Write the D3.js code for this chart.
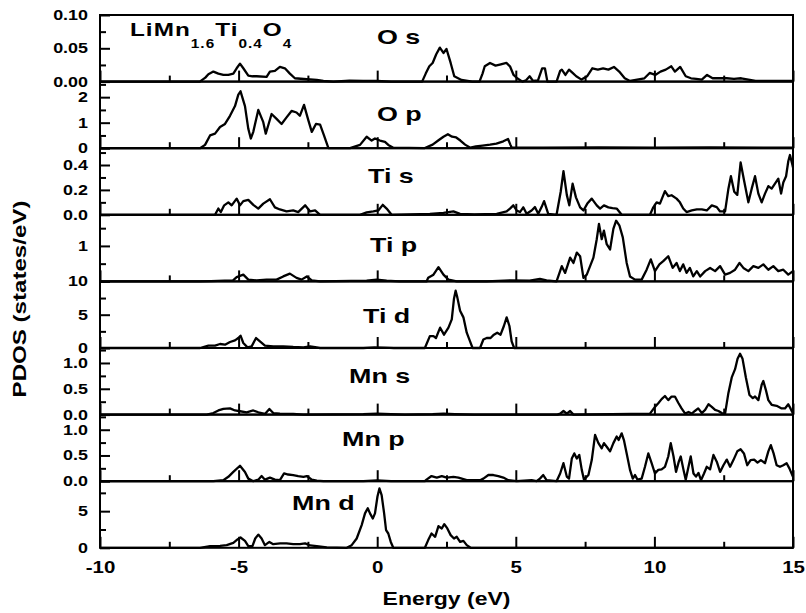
<!DOCTYPE html>
<html>
<head>
<meta charset="utf-8">
<script src="https://cdn.jsdelivr.net/npm/d3@7"></script>
<style>
  body { margin: 0; background: #fff; }
  text { font-family: "Liberation Sans", Arial, sans-serif; font-weight: bold; fill: #000; }
</style>
</head>
<body>
<svg id="chart" width="806" height="613"></svg>
<script>
/*
Energy axis ticks
*/
const energyTicks = [-10, -5, 0, 5, 10, 15];
const energyMinorTicks = [-7.5, -2.5, 2.5, 7.5, 12.5];

/*
PDOS curves, [energy (eV), states/eV]
*/
const oS = [[-10,0],[-6.4,0],[-6.2,0.006],[-6.09,0.011],[-5.91,0.015],[-5.73,0.012],[-5.55,0.01],[-5.37,0.01],[-5.19,0.012],[-5.07,0.02],[-4.95,0.027],[-4.83,0.02],[-4.65,0.009],[-4.5,0.008],[-4.35,0.008],[-3.99,0.007],[-3.87,0.015],[-3.69,0.016],[-3.51,0.022],[-3.33,0.02],[-3.15,0.012],[-2.97,0.005],[-2.54,0.0035],[-2.18,0.0025],[-1.94,0.001],[-1.58,0],[-1.0,0.0015],[-0.5,0.001],[0,0.001],[0.5,0],
  [1.62,0],[1.75,0.012],[1.88,0.023],[2.0,0.028],[2.13,0.041],[2.26,0.051],[2.39,0.043],[2.5,0.049],[2.65,0.028],[2.78,0.008],[3.04,0.0025],[3.43,0],[3.69,0],[3.8,0.012],[3.88,0.023],[4.07,0.028],[4.27,0.024],[4.46,0.026],[4.66,0.028],[4.79,0.023],[4.92,0.01],[5.05,0.005],[5.24,0],[5.37,0.002],[5.5,0.008],[5.62,0.001],[5.8,0.002],[5.95,0.02],[6.05,0.02],[6.14,0],[6.47,0],[6.6,0.016],[6.66,0.018],[6.79,0.01],[6.92,0.018],[7.05,0.013],[7.18,0.008],[7.37,0.003],[7.57,0.008],[7.76,0.02],[7.96,0.018],[8.15,0.02],[8.34,0.018],[8.54,0.022],[8.73,0.015],[8.93,0.005],[9.12,0.001],[9.38,0.003],[9.64,0.005],[9.83,0.013],[10.03,0.01],[10.22,0.015],[10.41,0.018],[10.61,0.023],[10.74,0.015],[10.93,0.022],[11.13,0.008],[11.32,0.005],[11.51,0.004],[11.71,0.003],[11.9,0.01],[12.1,0.005],[12.35,0.005],[12.61,0.005],[12.87,0.004],[13.13,0.005],[13.39,0.003],[13.65,0.001],[15,0.001]];

const oP = [[-10,0],[-6.39,0],[-6.21,0.13],[-6.03,0.5],[-5.85,0.57],[-5.67,0.83],[-5.49,0.95],[-5.31,1.27],[-5.13,1.65],[-5.01,2.1],[-4.93,2.23],[-4.77,1.65],[-4.65,0.76],[-4.56,0.38],[-4.47,0.64],[-4.29,1.5],[-4.11,1.02],[-4.02,0.57],[-3.93,0.9],[-3.81,1.34],[-3.63,1.15],[-3.45,0.95],[-3.27,1.21],[-3.09,1.46],[-2.91,1.4],[-2.79,1.27],[-2.64,1.7],[-2.48,1.08],[-2.36,0.64],[-2.21,0.95],[-2.06,0.92],[-1.92,0.5],[-1.76,0],[-0.98,0],[-0.62,0.13],[-0.38,0.45],[-0.2,0.3],[-0.08,0.38],[0.1,0.3],[0.28,0.25],[0.4,0.13],[0.58,0.02],
  [1.7,0],[2.0,0.14],[2.2,0.3],[2.39,0.45],[2.55,0.55],[2.7,0.45],[2.85,0.42],[3.0,0.3],[3.17,0.14],[3.36,0.02],[3.56,0.07],[3.8,0.1],[4.07,0.14],[4.3,0.18],[4.55,0.27],[4.72,0.36],[4.8,0.15],[4.85,0.03],[6,0.02],[8,0.03],[10,0.02],[12,0.03],[15,0.02]];

const tiS = [[-10,0],[-5.85,0],[-5.73,0.05],[-5.64,0.022],[-5.52,0.076],[-5.37,0.1],[-5.25,0.076],[-5.07,0.13],[-4.95,0.076],[-4.83,0.11],[-4.65,0.12],[-4.47,0.08],[-4.29,0.05],[-4.11,0.09],[-3.87,0.125],[-3.69,0.06],[-3.51,0.043],[-3.27,0.027],[-3.03,0.035],[-2.85,0.022],[-2.6,0.076],[-2.42,0.027],[-2.24,0.035],[-2.06,0],[-0.62,0],[-0.38,0.02],[-0.14,0.027],[0.04,0.035],[0.2,0.08],[0.34,0.05],[0.52,0],
  [1.9,0.008],[2.39,0.016],[2.75,0.027],[2.99,0.008],[3.5,0.003],[4.31,0.008],[4.67,0.027],[4.79,0.05],[4.91,0.076],[5.03,0.035],[5.15,0.022],[5.27,0.06],[5.39,0.008],[5.57,0.035],[5.69,0.062],[5.81,0.008],[5.93,0.062],[6.02,0.11],[6.17,0.008],[6.47,0],[6.62,0.185],[6.72,0.35],[6.84,0.16],[6.93,0.076],[7.05,0.25],[7.17,0.14],[7.32,0.06],[7.44,0.035],[7.58,0.09],[7.74,0.13],[7.92,0.076],[8.04,0.05],[8.18,0.076],[8.34,0.06],[8.49,0.054],[8.64,0.05],[8.82,0],[9.84,0],[9.96,0.06],[10.08,0.1],[10.2,0.09],[10.38,0.19],[10.5,0.15],[10.62,0.157],[10.8,0.13],[10.92,0.1],[11.04,0.05],[11.16,0.022],[11.35,0.035],[11.53,0.043],[11.71,0.043],[11.89,0.035],[12.07,0.076],[12.25,0.062],[12.37,0.027],[12.55,0.027],[12.67,0.21],[12.76,0.31],[12.88,0.185],[12.99,0.16],[13.11,0.42],[13.24,0.27],[13.39,0.1],[13.51,0.21],[13.63,0.31],[13.75,0.17],[13.87,0.1],[13.99,0.17],[14.11,0.23],[14.23,0.21],[14.35,0.25],[14.47,0.29],[14.57,0.17],[14.65,0.26],[14.75,0.31],[14.83,0.43],[14.89,0.48],[14.98,0.4],[15,0.38]];

const tiP = [[-10,0],[-6.4,0],[-6.0,0.01],[-5.5,0.02],[-5.2,0.03],[-5.07,0.12],[-4.83,0.19],[-4.65,0.05],[-4.35,0.03],[-3.99,0.05],[-3.63,0.05],[-3.39,0.14],[-3.15,0.22],[-2.91,0.1],[-2.73,0.05],[-2.54,0.14],[-2.36,0.03],[-2.06,0],[-0.38,0.02],[-0.02,0.05],[0.34,0.02],[0.8,0],
  [1.78,0],[1.84,0.1],[2.03,0.19],[2.21,0.4],[2.39,0.19],[2.57,0.05],[2.87,0],[3.95,0],[4.8,0.03],[5.5,0.02],[5.87,0.07],[6.11,0.03],[6.47,0],[6.66,0.43],[6.78,0.24],[6.96,0.67],[7.08,0.52],[7.2,0.81],[7.32,0.71],[7.44,0.1],[7.56,0.19],[7.68,0.43],[7.8,0.67],[7.92,1.19],[8.0,1.62],[8.1,1.19],[8.18,1.43],[8.28,1.05],[8.4,0.9],[8.52,1.48],[8.62,1.71],[8.74,1.57],[8.86,1.24],[9.0,0.52],[9.12,0.14],[9.3,0.05],[9.54,0.05],[9.72,0.33],[9.87,0.62],[10.02,0.29],[10.18,0.48],[10.32,0.57],[10.5,0.71],[10.66,0.38],[10.8,0.52],[10.92,0.29],[11.04,0.48],[11.16,0.24],[11.28,0.38],[11.4,0.14],[11.53,0.29],[11.65,0.14],[11.83,0.29],[12.01,0.38],[12.19,0.29],[12.37,0.43],[12.55,0.19],[12.73,0.24],[12.91,0.33],[13.07,0.52],[13.21,0.38],[13.39,0.29],[13.57,0.43],[13.75,0.38],[13.93,0.48],[14.11,0.33],[14.29,0.43],[14.47,0.29],[14.65,0.33],[14.83,0.19],[15,0.29]];

const tiD = [[-10,0],[-6.39,0],[-6.09,0.35],[-5.85,0.35],[-5.67,0.6],[-5.49,0.5],[-5.31,0.9],[-5.13,1.15],[-5.01,1.5],[-4.93,1.85],[-4.83,0.75],[-4.68,0.1],[-4.53,0.25],[-4.37,1.5],[-4.23,1.0],[-4.05,0.35],[-3.75,0.25],[-3.39,0.25],[-3.03,0.15],[-2.66,0.1],[-2.42,0.25],[-2.06,0],[-0.5,0],[-0.1,0.1],[0.3,0.05],[0.6,0],
  [1.72,0],[1.9,1.78],[2.03,1.78],[2.12,1.5],[2.27,3.05],[2.41,2.0],[2.57,3.05],[2.69,4.3],[2.77,7.4],[2.83,8.6],[2.89,7.6],[2.99,5.6],[3.11,4.6],[3.23,2.3],[3.35,1.0],[3.44,0],[3.71,0],[3.83,1.27],[3.95,1.5],[4.09,1.5],[4.21,2.0],[4.33,2.3],[4.45,2.0],[4.57,3.3],[4.67,4.6],[4.77,3.3],[4.85,1.0],[4.94,0],[15,0]];

const mnS = [[-10,0],[-6.15,0],[-5.91,0.03],[-5.73,0.08],[-5.55,0.11],[-5.31,0.12],[-5.13,0.08],[-4.95,0.065],[-4.71,0.045],[-4.47,0.08],[-4.29,0.045],[-4.05,0.013],[-3.89,0.11],[-3.75,0.03],[-3.51,0.02],[-3.03,0.013],[-2.66,0],[-0.5,0.01],[0,0.02],[0.5,0.01],[1,0],
  [2.0,0.01],[2.4,0.02],[2.8,0.01],[3.5,0],[6.5,0],[6.6,0.02],[6.72,0.07],[6.84,0.02],[6.96,0.07],[7.08,0],[9.84,0.02],[10.02,0.15],[10.14,0.22],[10.26,0.3],[10.38,0.36],[10.5,0.28],[10.62,0.35],[10.74,0.35],[10.86,0.23],[10.98,0.12],[11.11,0.02],[11.23,0.05],[11.35,0.02],[11.46,0.07],[11.58,0.12],[11.71,0.03],[11.83,0.09],[11.95,0.2],[12.07,0.15],[12.19,0.09],[12.31,0.07],[12.43,0.03],[12.55,0.02],[12.67,0.42],[12.79,0.72],[12.91,0.88],[13.0,1.08],[13.09,1.18],[13.18,1.08],[13.3,0.72],[13.43,0.38],[13.55,0.32],[13.63,0.35],[13.75,0.28],[13.87,0.58],[13.93,0.65],[14.02,0.48],[14.11,0.28],[14.23,0.19],[14.41,0.17],[14.59,0.12],[14.71,0.12],[14.83,0.2],[14.91,0.12],[15,0.02]];

const mnP = [[-10,0],[-5.91,0],[-5.55,0.02],[-5.37,0.085],[-5.19,0.18],[-4.95,0.3],[-4.77,0.18],[-4.65,0.05],[-4.47,0],[-4.29,0.03],[-4.17,0.1],[-4.05,0.03],[-3.87,0.07],[-3.69,0.03],[-3.51,0.02],[-3.36,0.15],[-3.21,0.13],[-3.03,0.12],[-2.85,0.1],[-2.66,0.085],[-2.54,0.1],[-2.36,0.03],[-2.18,0.01],[-1.94,0],[-0.5,0],[0,0.015],[0.5,0],
  [1.72,0],[1.78,0.03],[1.96,0.1],[2.15,0.07],[2.33,0.1],[2.51,0.07],[2.75,0.085],[2.93,0.07],[3.23,0.02],[3.71,0.02],[3.83,0.05],[4.01,0.12],[4.19,0.12],[4.37,0.1],[4.55,0.07],[4.73,0.02],[5.03,0],[5.57,0.02],[5.75,0],[5.87,0.05],[5.99,0.12],[6.11,0.02],[6.47,0],[6.6,0.15],[6.72,0.35],[6.84,0.09],[6.92,0.05],[7.02,0.44],[7.11,0.54],[7.2,0.44],[7.29,0.51],[7.38,0.22],[7.46,0.03],[7.62,0.12],[7.74,0.41],[7.86,0.9],[7.98,0.74],[8.1,0.64],[8.18,0.74],[8.28,0.67],[8.4,0.58],[8.52,0.74],[8.64,0.87],[8.71,0.8],[8.82,0.93],[8.9,0.8],[9.0,0.54],[9.12,0.22],[9.22,0.05],[9.3,0.12],[9.39,0.03],[9.54,0.05],[9.66,0.28],[9.78,0.54],[9.9,0.35],[10.02,0.15],[10.14,0.22],[10.26,0.23],[10.38,0.28],[10.5,0.48],[10.59,0.74],[10.69,0.48],[10.78,0.18],[10.88,0.38],[10.95,0.48],[11.05,0.22],[11.13,0.03],[11.23,0.28],[11.31,0.48],[11.41,0.15],[11.5,0.09],[11.59,0.16],[11.68,0.02],[11.79,0.15],[11.89,0.28],[12.01,0.23],[12.13,0.51],[12.25,0.38],[12.37,0.18],[12.49,0.31],[12.61,0.42],[12.73,0.28],[12.85,0.41],[12.99,0.58],[13.11,0.62],[13.23,0.54],[13.35,0.31],[13.47,0.41],[13.6,0.42],[13.72,0.36],[13.84,0.41],[13.99,0.35],[14.11,0.58],[14.2,0.7],[14.3,0.54],[14.41,0.31],[14.53,0.28],[14.65,0.31],[14.77,0.35],[14.87,0.25],[15,0.085]];

const mnD = [[-10,0],[-6.39,0],[-6.03,0.23],[-5.67,0.27],[-5.43,0.36],[-5.19,0.68],[-5.04,1.14],[-4.93,1.4],[-4.77,0.95],[-4.65,0.23],[-4.5,0.23],[-4.4,1.27],[-4.29,1.8],[-4.17,1.27],[-4.05,0.36],[-3.89,0.8],[-3.75,0.5],[-3.5,0.6],[-3.27,0.6],[-3.03,0.5],[-2.79,0.5],[-2.6,0.6],[-2.42,0.32],[-2.18,0.23],[-1.82,0.05],[-1.1,0],[-0.92,0.36],[-0.74,1.27],[-0.56,3.1],[-0.44,4.7],[-0.34,5.4],[-0.26,4.7],[-0.16,4.0],[-0.08,4.7],[0.01,7.0],[0.08,8.1],[0.16,7.2],[0.25,4.7],[0.32,2.4],[0.4,1.95],[0.49,0.8],[0.58,0],
  [1.72,0],[1.84,1.05],[1.96,1.95],[2.09,1.5],[2.21,2.95],[2.33,2.64],[2.42,3.23],[2.53,2.64],[2.65,1.73],[2.77,1.27],[2.87,1.5],[2.99,0.8],[3.11,0.95],[3.23,0.36],[3.37,0],[15,0]];

/*
Panel names, y ranges and y ticks (top to bottom)
*/
const panelNames = ["O s", "O p", "Ti s", "Ti p", "Ti d", "Mn s", "Mn p", "Mn d"];
const panelMax = [0.10, 2.61, 0.535, 1.877, 10, 1.29, 1.294, 9.09];
const panelTicks = [[0, 0.05, 0.10], [0, 1, 2], [0, 0.2, 0.4], [0, 1], [0, 5, 10], [0, 0.5, 1.0], [0, 0.5, 1.0], [0, 5]];
// Ti p's zero sits under the "10" of Ti d, so it carries no label of its own
const panelUnlabelled = [[], [], [], [0], [], [], [], []];
const panelMinorTicks = [[0.025, 0.075], [0.5, 1.5, 2.5], [0.1, 0.3, 0.5], [0.5, 1.5], [2.5, 7.5], [0.25, 0.75, 1.25], [0.25, 0.75, 1.25], [2.5, 7.5]];
const panelFormats = [".2f", "d", ".1f", "d", "d", ".1f", ".1f", "d"];
const titleParts = [["LiMn", false], ["1.6", true], ["Ti", false], ["0.4", true], ["O", false], ["4", true]];

/*
Layout
*/
const margin = { top: 15, left: 100 };
const plotW = 693;
const panelH = 66.6;
const sx = 1.28; // lettering in the figure is stretched sideways

// label anchor points [x, baseline y]
const labelPos = [[377, 44], [377, 121], [368, 183], [370, 252], [363, 323], [349, 383], [342, 446], [292, 510]];

const svg = d3.select("#chart");

const xScale = d3.scaleLinear().domain([-10, 15]).range([margin.left, margin.left + plotW]);

const series = [oS, oP, tiS, tiP, tiD, mnS, mnP, mnD];

function stretchedText(parent, x, y, str, size, anchor) {
  return parent
    .append("g")
    .attr("transform", "translate(" + x + "," + y + ") scale(" + sx + ",1)")
    .append("text")
    .attr("text-anchor", anchor || "start")
    .style("font-size", size + "px")
    .text(str);
}

series.forEach((data, i) => {
  const top = margin.top + i * panelH;
  const bottom = top + panelH;
  const yScale = d3.scaleLinear().domain([0, panelMax[i]]).range([bottom, top]);
  const g = svg.append("g").attr("class", "panel");

  // curve
  const line = d3
    .line()
    .x((d) => xScale(d[0]))
    .y((d) => yScale(d[1]));
  g.append("path")
    .datum(data)
    .attr("fill", "none")
    .attr("stroke", "#000")
    .attr("stroke-width", 2.3)
    .attr("stroke-linejoin", "round")
    .attr("d", line);

  // y axis, ticks pointing inward
  const fmt = d3.format(panelFormats[i]);
  const gY = g
    .append("g")
    .attr("transform", "translate(" + margin.left + ",0)")
    .call(
      d3.axisLeft(yScale).tickValues(panelTicks[i]).tickSize(-10).tickPadding(12)
        .tickFormat((d) => (panelUnlabelled[i].includes(d) ? "" : fmt(d)))
    );
  gY.append("g").call(
    d3.axisLeft(yScale).tickValues(panelMinorTicks[i]).tickSize(-6).tickFormat("")
  );
  gY.selectAll(".domain").remove();
  gY.attr("font-family", null).attr("font-size", null);
  gY.selectAll("text")
    .style("font-size", "14px")
    .attr("x", -12 / sx)
    .attr("transform", "scale(" + sx + ",1)");

  // energy ticks along the bottom of every panel
  const gX = g
    .append("g")
    .attr("transform", "translate(0," + bottom + ")")
    .call(
      d3.axisBottom(xScale).tickValues(energyTicks).tickSize(-11).tickPadding(14)
        .tickFormat((d) => (i === series.length - 1 ? String(d) : ""))
    );
  gX.append("g").call(
    d3.axisBottom(xScale).tickValues(energyMinorTicks).tickSize(-6).tickFormat("")
  );
  gX.selectAll(".domain").remove();
  gX.attr("font-family", null).attr("font-size", null);
  gX.selectAll("text")
    .style("font-size", "16px")
    .attr("transform", "scale(" + sx + ",1)");

  svg.selectAll(".tick line").attr("stroke-width", 2);

  // frame
  g.append("rect")
    .attr("x", margin.left)
    .attr("y", top)
    .attr("width", plotW)
    .attr("height", panelH)
    .attr("fill", "none")
    .attr("stroke", "#000")
    .attr("stroke-width", 2);

  // panel label
  stretchedText(g, labelPos[i][0], labelPos[i][1], panelNames[i], 21);
});

/*
Compound name
*/
const title = svg
  .append("g")
  .attr("transform", "translate(130,36) scale(" + sx + ",1)")
  .append("text")
  .style("font-size", "19px")
  .style("letter-spacing", "0.8px");
let prevSub = false;
titleParts.forEach(([t, sub]) => {
  title
    .append("tspan")
    .attr("dy", sub === prevSub ? 0 : sub ? 12 : -12)
    .style("font-size", sub ? "12px" : "19px")
    .text(t);
  prevSub = sub;
});

/*
Axis titles
*/
stretchedText(svg, margin.left + plotW / 2, 605, "Energy (eV)", 18, "middle");

svg
  .append("g")
  .attr("transform", "translate(26,299) rotate(-90) scale(1.34,1)")
  .append("text")
  .attr("text-anchor", "middle")
  .style("font-size", "18px")
  .text("PDOS (states/eV)");
</script>
</body>
</html>
